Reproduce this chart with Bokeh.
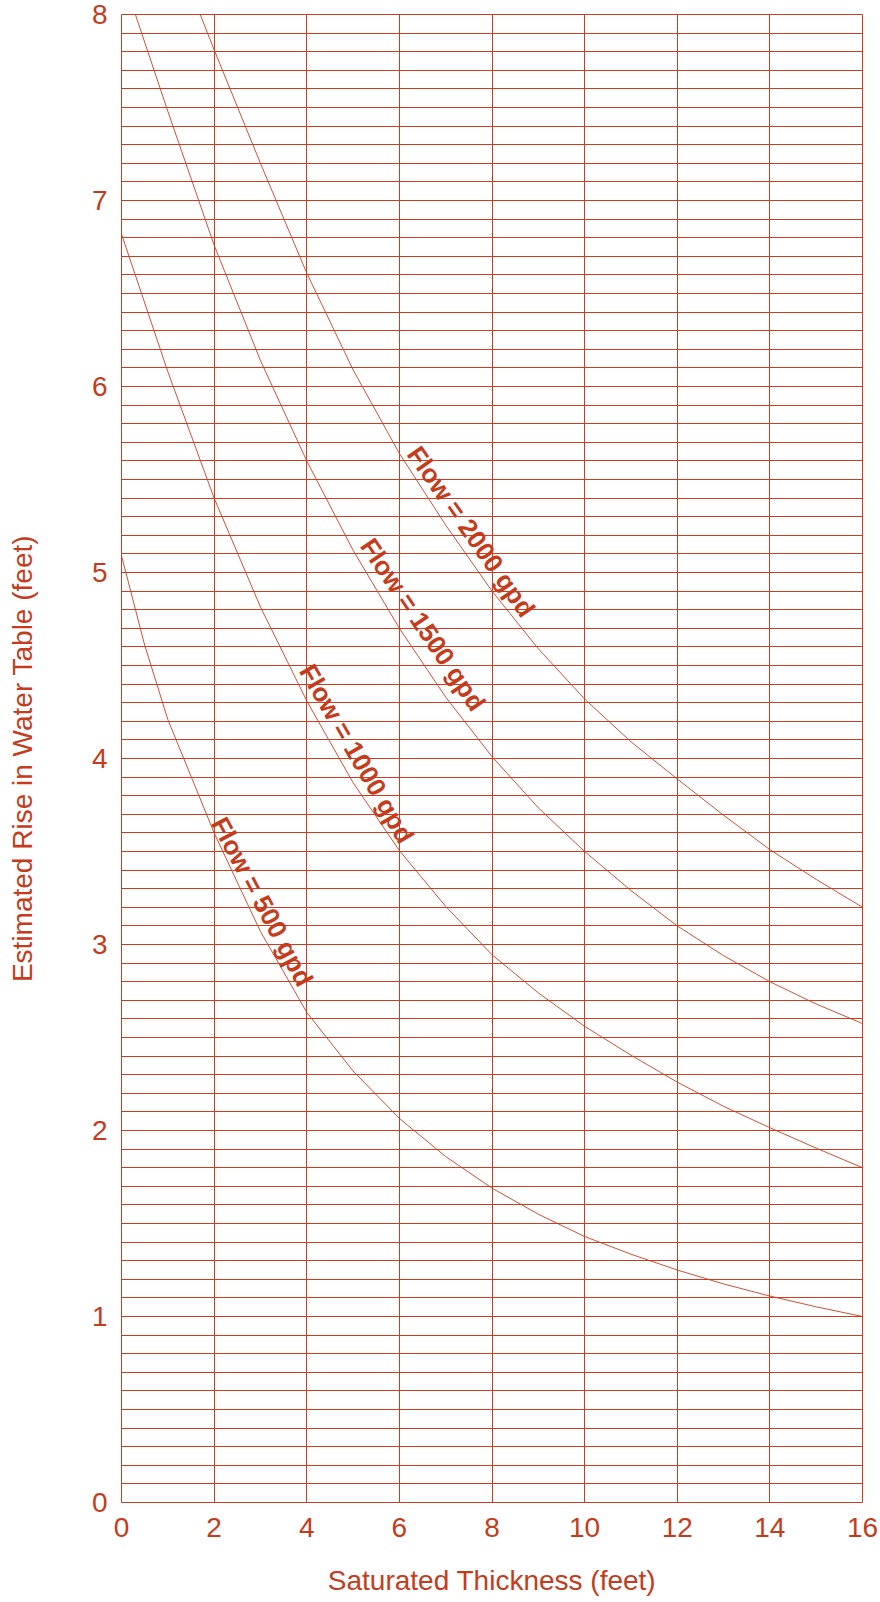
from bokeh.plotting import figure
from bokeh.models import SingleIntervalTicker, Range1d, ColumnDataSource
from bokeh.core.properties import value
from bokeh.embed import file_html
from bokeh.resources import INLINE
import math

# ---------------- data ----------------
flow_2000_x = [1.70, 2, 3, 4, 5, 6, 7, 8, 9, 10, 11, 12, 13, 14, 15, 16]
flow_2000_y = [8.00, 7.81, 7.20, 6.61, 6.09, 5.64, 5.255, 4.90, 4.59, 4.32, 4.09, 3.89, 3.695, 3.51, 3.35, 3.20]

flow_1500_x = [0.30, 1, 2, 3, 4, 5, 6, 7, 8, 9, 10, 11, 12, 13, 14, 15, 16]
flow_1500_y = [8.00, 7.48, 6.76, 6.14, 5.60, 5.12, 4.70, 4.33, 4.01, 3.735, 3.50, 3.29, 3.10, 2.94, 2.80, 2.68, 2.575]

flow_1000_x = [0, 1, 2, 3, 4, 5, 6, 7, 8, 9, 10, 11, 12, 13, 14, 15, 16]
flow_1000_y = [6.82, 6.08, 5.40, 4.815, 4.31, 3.87, 3.505, 3.205, 2.945, 2.74, 2.56, 2.405, 2.26, 2.13, 2.015, 1.905, 1.80]

flow_500_x = [0, 0.5, 1, 2, 3, 4, 5, 6, 7, 8, 9, 10, 11, 12, 13, 14, 15, 16]
flow_500_y = [5.09, 4.61, 4.21, 3.60, 3.07, 2.635, 2.32, 2.065, 1.86, 1.69, 1.55, 1.43, 1.335, 1.25, 1.175, 1.11, 1.052, 1.00]

curve_labels = ["Flow = 2000 gpd", "Flow = 1500 gpd", "Flow = 1000 gpd", "Flow = 500 gpd"]
# label anchor (data coords) and rotation (degrees, clockwise along the curve)
label_x = [7.55, 6.51, 5.08, 3.04]
label_y = [5.22, 4.72, 4.025, 3.23]
label_rot = [55, 56, 60, 62]

x_title = "Saturated Thickness (feet)"
y_title = "Estimated Rise in Water Table (feet)"

# ---------------- styling ----------------
LINE = "#CE3C1E"
TEXT = "#C43C1C"
FONT = "Liberation Sans"

p = figure(width=880, height=1602,
           x_range=Range1d(0, 16), y_range=Range1d(0, 8),
           output_backend="svg", toolbar_location=None,
           min_border_left=121, min_border_top=14,
           min_border_right=18, min_border_bottom=100)

p.background_fill_color = "white"
p.border_fill_color = "white"
p.outline_line_color = LINE
p.outline_line_width = 1

# axes
p.xaxis.ticker = SingleIntervalTicker(interval=2, num_minor_ticks=0)
p.yaxis.ticker = SingleIntervalTicker(interval=1, num_minor_ticks=10)
for ax in (p.xaxis[0], p.yaxis[0]):
    ax.axis_line_color = None
    ax.major_tick_line_color = None
    ax.minor_tick_line_color = None
    ax.major_tick_out = 0
    ax.major_tick_in = 0
    ax.minor_tick_out = 0
    ax.minor_tick_in = 0
    ax.major_label_text_font = FONT
    ax.major_label_text_font_size = "28px"
    ax.major_label_text_color = TEXT
    ax.axis_label_text_font = FONT
    ax.axis_label_text_font_size = "28px"
    ax.axis_label_text_font_style = "normal"
    ax.axis_label_text_color = TEXT

p.xaxis.axis_label = x_title
p.yaxis.axis_label = y_title
p.xaxis.major_label_standoff = 15
p.xaxis.axis_label_standoff = 25
p.yaxis.major_label_standoff = 14
p.yaxis.axis_label_standoff = 51

# grid
p.xgrid.grid_line_color = LINE
p.xgrid.grid_line_width = 1
p.ygrid.grid_line_color = LINE
p.ygrid.grid_line_width = 1
p.ygrid.minor_grid_line_color = LINE
p.ygrid.minor_grid_line_width = 1

# curves
for xs, ys in [(flow_2000_x, flow_2000_y), (flow_1500_x, flow_1500_y),
               (flow_1000_x, flow_1000_y), (flow_500_x, flow_500_y)]:
    p.line(xs, ys, line_color=LINE, line_width=1, line_alpha=0.9)

# curve labels
src = ColumnDataSource(dict(x=label_x, y=label_y, text=curve_labels,
                            angle=[-math.radians(a) for a in label_rot]))
p.text(x="x", y="y", text="text", angle="angle", source=src,
       text_font=value(FONT), text_font_size="26px", text_font_style="bold",
       text_color=TEXT, text_align="center", text_baseline="middle")

open("out.html", "w").write(file_html(p, INLINE))
